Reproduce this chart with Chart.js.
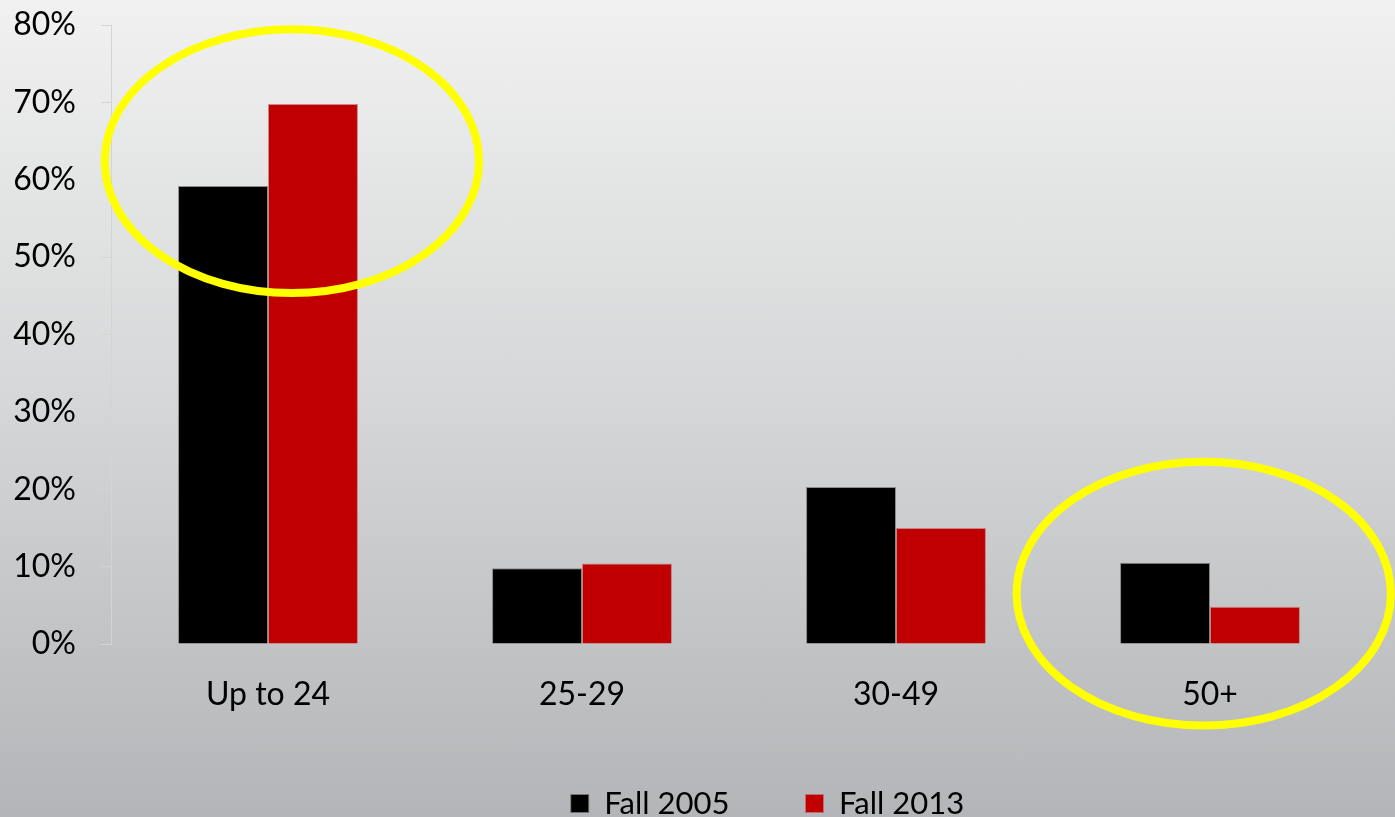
<!DOCTYPE html>
<html>
<head>
<meta charset="utf-8">
<script src="https://cdn.jsdelivr.net/npm/chart.js@4.4.1/dist/chart.umd.min.js"></script>
<style>
  html, body { margin: 0; padding: 0; }
  body {
    width: 1395px; height: 817px; overflow: hidden;
    background: linear-gradient(to bottom, #f0f1f0 0%, #d5d6d7 50%, #b4b5b8 100%);
  }
  #wrap { position: relative; width: 1395px; height: 817px; }
</style>
</head>
<body>
<div id="wrap"><canvas id="c" width="1395" height="817"></canvas></div>
<script>
const categories = ["Up to 24", "25-29", "30-49", "50+"];
const seriesNames = ["Fall 2005", "Fall 2013"];
const fall2005 = [0.592, 0.098, 0.203, 0.105];
const fall2013 = [0.698, 0.104, 0.150, 0.048];
const yTicks = [0, 0.1, 0.2, 0.3, 0.4, 0.5, 0.6, 0.7, 0.8];

const FONT = "Lato, 'Open Sans', sans-serif";
const FSIZE = 32;

const ellipsePlugin = {
  id: 'ellipses',
  afterDatasetsDraw(chart) {
    const { ctx, scales: { x, y } } = chart;
    const catW = x.getPixelForValue(1) - x.getPixelForValue(0);
    const rings = [
      { cat: 0, dx: 0.076, v: 0.624 },
      { cat: 3, dx: -0.02, v: 0.065 }
    ];
    ctx.save();
    ctx.strokeStyle = '#ffff00';
    ctx.lineWidth = 8;
    rings.forEach(r => {
      const cx = x.getPixelForValue(r.cat) + r.dx * catW;
      const cy = y.getPixelForValue(r.v);
      ctx.beginPath();
      ctx.ellipse(cx, cy, 0.596 * catW, 0.42 * catW, 0, 0, Math.PI * 2);
      ctx.stroke();
    });
    ctx.restore();
  }
};

const legendShift = {
  id: 'legendShift',
  afterLayout(chart) {
    const lg = chart.legend;
    if (lg) { lg.left += 78; lg.right += 78; }
  }
};

new Chart(document.getElementById('c'), {
  type: 'bar',
  data: {
    labels: categories,
    datasets: [
      { label: seriesNames[0], data: fall2005, backgroundColor: '#000000', borderColor: 'rgba(120,120,120,0.8)', borderWidth: 1 },
      { label: seriesNames[1], data: fall2013, backgroundColor: '#c00000', borderColor: 'rgba(200,110,110,0.8)', borderWidth: 1 }
    ]
  },
  options: {
    responsive: false,
    animation: false,
    devicePixelRatio: 1,
    layout: { padding: { top: 25, right: 28, left: 12, bottom: -12 } },
    datasets: { bar: { categoryPercentage: 0.573, barPercentage: 1.0 } },
    scales: {
      x: {
        grid: { display: false },
        border: { display: false },
        ticks: { color: '#000', font: { family: FONT, size: FSIZE }, padding: 23 },
        afterFit(s) { s.height = 68; }
      },
      y: {
        min: 0, max: 0.8,
        afterBuildTicks(s) { s.ticks = yTicks.map(v => ({ value: v })); },
        afterFit(s) { s.width = 99; s.paddingTop = 0; s.paddingBottom = 0; },
        grid: { drawOnChartArea: false, drawTicks: true, tickLength: 10, color: '#d4d4d4' },
        border: { display: true, color: '#d4d4d4', width: 1 },
        ticks: {
          color: '#000', font: { family: FONT, size: FSIZE }, padding: 25,
          callback: v => Math.round(v * 100) + '%'
        }
      }
    },
    plugins: {
      legend: {
        position: 'bottom',
        labels: {
          color: '#000', font: { family: FONT, size: 31 },
          boxWidth: 18, boxHeight: 18, padding: 76
        }
      },
      tooltip: { enabled: false }
    }
  },
  plugins: [ellipsePlugin, legendShift]
});
</script>
</body>
</html>
